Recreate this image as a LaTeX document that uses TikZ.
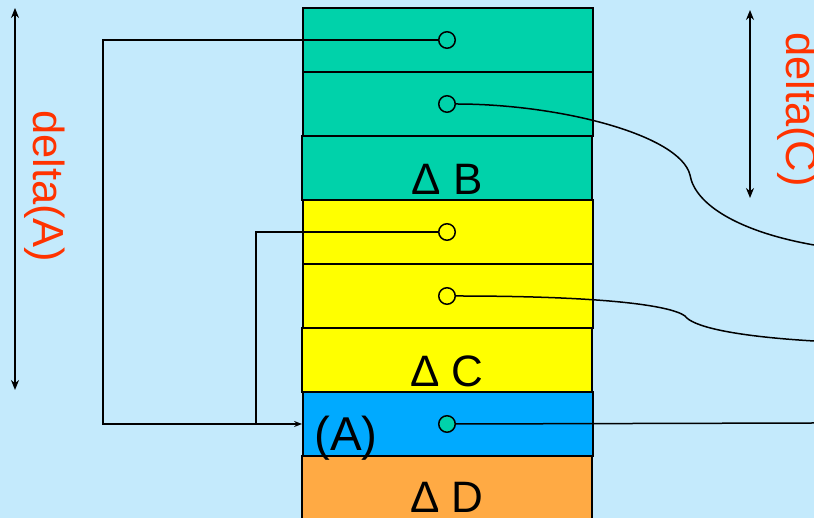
\documentclass[tikz,border=0pt]{standalone}
\usepackage{fontspec}
\setmainfont{Liberation Sans}
\usetikzlibrary{arrows.meta}
\definecolor{bg}{HTML}{C4EAFC}
\definecolor{tealc}{HTML}{00D2AA}
\definecolor{yel}{HTML}{FFFF00}
\definecolor{bluec}{HTML}{00AAFF}
\definecolor{orangec}{HTML}{FFAA44}
\definecolor{redc}{HTML}{FF3300}
\tikzset{
  cell/.style={draw=black, line width=1.8pt, minimum width=290pt, minimum height=64pt, inner sep=0pt},
  ptr/.style={circle, draw=black, line width=1.5pt, minimum size=16.5pt, inner sep=0pt},
  conn/.style={draw=black, line width=1.5pt},
  boxlabel/.style={font=\fontsize{44}{50}\selectfont, inner sep=0pt, anchor=base},
  dlabel/.style={font=\fontsize{43.5}{50}\selectfont, text=redc, inner sep=0pt, rotate=-90, anchor=base west},
  dim/.style={line width=1.5pt, {Stealth[length=10pt,width=8pt]}-{Stealth[length=10pt,width=8pt]}}
}
\begin{document}
\begin{tikzpicture}[x=1pt,y=1pt]
\useasboundingbox (0,0) rectangle (814,518);
\clip (0,0) rectangle (814,518);
\fill[bg] (0,0) rectangle (814,518);
% cells
\node[cell, fill=tealc] (r1) at (448,478) {};
\node[cell, fill=tealc] (r2) at (448,414) {};
\node[cell, fill=tealc] (r3) at (447,350) {};
\node[cell, fill=yel] (r4) at (448,286) {};
\node[cell, fill=yel] (r5) at (448,222) {};
\node[cell, fill=yel] (r6) at (447,158) {};
\node[cell, fill=bluec] (r7) at (448,94) {};
\node[cell, fill=orangec] (r8) at (447,30) {};
% labels
\node[boxlabel] (lb) at (447,323) {Δ B};
\node[boxlabel] (lc) at (447,131) {Δ C};
\node[boxlabel] (ld) at (447,5) {Δ D};
\node[boxlabel, anchor=base west, font=\fontsize{47.5}{50}\selectfont] (la) at (314,67) {(A)};
% pointers
\node[ptr] (c1) at (447,478) {};
\node[ptr] (c2) at (447,414) {};
\node[ptr] (c3) at (447,286) {};
\node[ptr] (c4) at (447,222) {};
\node[ptr, fill=tealc] (c5) at (447,94) {};
% connectors
\coordinate (k1) at (103,478);
\coordinate (k2) at (103,94);
\coordinate (k3) at (256,286);
\coordinate (k4) at (256,94);
\draw[conn, -{Stealth[length=8pt,width=6pt]}] (c1.west) -- (k1) -- (k2) -- (r7.west);
\draw[conn] (c3.west) -- (k3) -- (k4);
\coordinate (e2) at (814,273);
\coordinate (e4) at (814,177);
\coordinate (e5) at (814,95);
\draw[conn] (c2.east) .. controls (560,414) and (680,383) .. (690,343)
  .. controls (695,313) and (740,286) .. (e2);
\draw[conn] (c4.east) .. controls (600,222) and (670,213) .. (685,202)
  .. controls (692,192) and (730,182) .. (e4);
\draw[conn] (c5.east) -- (e5);
% dimension arrows
\coordinate (a1) at (15,510);
\coordinate (a2) at (15,128);
\coordinate (b1) at (750,508);
\coordinate (b2) at (750,320);
\draw[dim] (a1) -- (a2);
\draw[dim] (b1) -- (b2);
\node[dlabel] (da) at (33,408) {delta(A)};
\node[dlabel] (dc) at (786,486) {delta(C)};
\end{tikzpicture}
\end{document}
